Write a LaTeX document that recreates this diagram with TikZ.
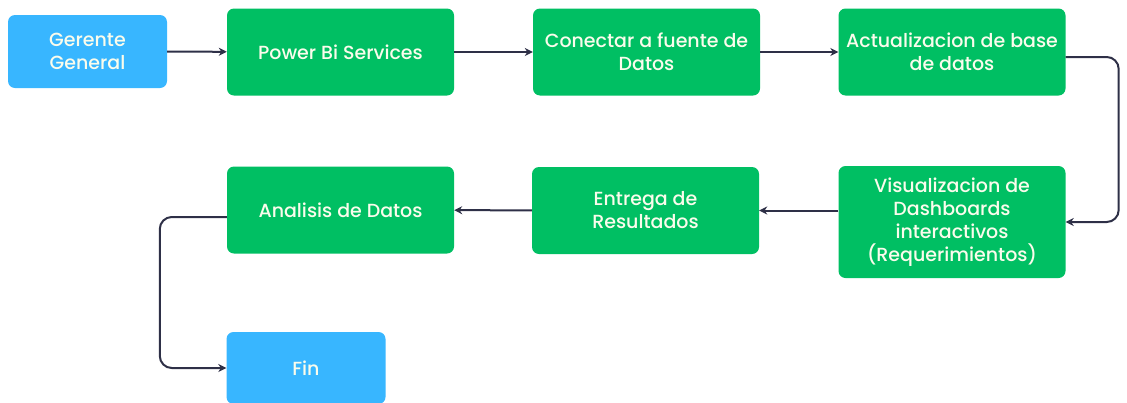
\documentclass[tikz,border=0pt]{standalone}
\usepackage{fontspec}
\setmainfont{Poppins Medium}
\usepackage{xcolor}
\usetikzlibrary{arrows.meta}
\definecolor{boxgreen}{HTML}{00BF63}
\definecolor{boxblue}{HTML}{38B6FF}
\definecolor{linenavy}{HTML}{2E3047}
\definecolor{textcream}{HTML}{FAFCEC}
\tikzset{
    step-box/.style = {fill=boxgreen, text=textcream, rounded corners=7pt, align=center, inner sep=0pt, minimum width=227pt, minimum height=87pt, font=\fontsize{19}{23}\selectfont},
    end-box/.style = {step-box, fill=boxblue, minimum width=159pt, minimum height=73pt},
    flow-line/.style = {draw=linenavy, line width=2pt, -{Stealth[length=8pt,width=8pt]}, rounded corners=12pt},
}

\begin{document}
\begin{tikzpicture}[x=1pt, y=-1pt]
\useasboundingbox (0,0) rectangle (1127,402);
\node [end-box] (gerente) at (87.5,51.5) {Gerente\\General};
\node [step-box] (powerbi) at (340.5,52) {Power Bi Services};
\node [step-box] (conectar) at (646.5,52) {Conectar a fuente de\\Datos};
\node [step-box] (actualiz) at (952,52) {Actualizacion de base\\de datos};
\node [step-box, minimum height=112pt] (visual) at (952,222) {Visualizacion de\\Dashboards\\interactivos\\(Requerimientos)};
\node [step-box] (entrega) at (645.5,210.5) {Entrega de\\Resultados};
\node [step-box] (analisis) at (340.5,210) {Analisis de Datos};
\node [end-box, minimum height=72pt] (fin) at (306,368) {Fin};

\draw [flow-line] (gerente) -- (powerbi);
\draw [flow-line] (powerbi) -- (conectar);
\draw [flow-line] (conectar) -- (actualiz);
\draw [flow-line] ([yshift=-5pt]actualiz.east) -- ++(53,0) |- (visual.east);
\draw [flow-line] (entrega.east -| visual.west) -- (entrega.east);
\draw [flow-line] (entrega) -- (analisis);
\draw [flow-line] ([yshift=-7pt]analisis.west) -- ++(-67,0) |- (fin.west);
\end{tikzpicture}
\end{document}
